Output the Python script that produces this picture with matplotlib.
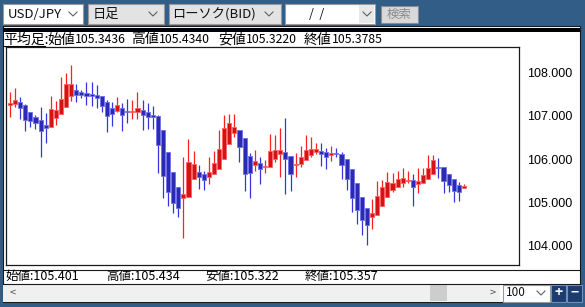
import matplotlib
matplotlib.use("Agg")
import matplotlib.pyplot as plt
from matplotlib.patches import Rectangle

plt.rcParams['font.family'] = ['Noto Sans CJK JP', 'DejaVu Sans']

# Heikin-ashi daily candles, USD/JPY
opens = [107.249, 107.272, 107.310, 107.242, 107.073, 106.973, 106.897, 106.782, 106.743, 106.950,
         107.035, 107.203, 107.456, 107.586, 107.540, 107.510, 107.487, 107.464, 107.441, 107.318,
         107.165, 107.104, 107.165, 107.096, 107.088, 107.088, 107.127, 107.073, 107.012, 106.989,
         106.667, 106.153, 105.709, 105.349, 105.111, 105.134, 105.533, 105.694, 105.655, 105.579,
         105.648, 105.778, 106.000, 106.345, 106.590, 106.667, 106.475, 106.069, 105.862, 105.901,
         105.824, 105.824, 106.000, 106.107, 106.153, 106.077, 105.862, 105.878, 105.977, 106.092,
         106.153, 106.192, 106.153, 106.092, 106.123, 106.123, 105.992, 105.770, 105.441, 105.134,
         104.866, 104.674, 104.705, 104.927, 105.134, 105.287, 105.364, 105.456, 105.502, 105.510,
         105.425, 105.456, 105.533, 105.655, 105.824, 105.809, 105.663, 105.540, 105.402, 105.3436]
highs = [107.548, 107.625, 107.433, 107.265, 107.088, 107.012, 107.203, 107.050, 107.448, 107.341,
         107.878, 107.969, 108.161, 107.717, 107.586, 107.763, 107.778, 107.701, 107.448, 107.356,
         107.303, 107.418, 107.295, 107.379, 107.356, 107.533, 107.356, 107.280, 107.219, 107.012,
         106.667, 106.153, 105.709, 105.349, 106.054, 106.460, 106.192, 105.862, 105.732, 106.054,
         106.192, 106.667, 107.012, 107.035, 107.035, 106.667, 106.475, 106.130, 106.207, 106.054,
         105.977, 106.575, 106.552, 106.705, 106.935, 106.077, 106.130, 106.299, 106.544, 106.498,
         106.360, 106.360, 106.261, 106.299, 106.253, 106.153, 105.992, 105.770, 105.441, 105.134,
         104.866, 105.073, 105.494, 105.517, 105.694, 105.671, 105.724, 105.801, 105.724, 105.655,
         105.801, 105.786, 106.092, 106.092, 106.031, 105.809, 105.663, 105.540, 105.479, 105.434]
lows = [106.973, 107.188, 106.920, 106.644, 106.743, 106.682, 106.054, 106.360, 106.743, 106.782,
        107.027, 107.203, 107.341, 107.303, 107.410, 107.242, 107.226, 107.180, 107.073, 106.628,
        106.766, 107.088, 106.651, 106.820, 106.920, 106.927, 106.667, 106.690, 106.690, 105.671,
        105.096, 104.927, 104.751, 104.659, 104.176, 105.134, 105.533, 105.303, 105.287, 105.425,
        105.648, 105.778, 106.000, 106.345, 106.514, 105.924, 105.272, 105.096, 105.724, 105.425,
        105.671, 105.824, 105.939, 105.579, 105.188, 105.272, 105.579, 105.824, 105.977, 106.038,
        106.115, 105.839, 105.778, 105.962, 106.038, 105.533, 105.287, 104.774, 104.506, 104.253,
        104.023, 104.383, 104.705, 104.927, 105.134, 105.249, 105.364, 105.364, 105.456, 104.920,
        105.211, 105.456, 105.533, 105.655, 105.556, 105.226, 105.249, 105.019, 105.035, 105.322]
closes = [107.295, 107.356, 107.165, 106.897, 106.874, 106.820, 106.651, 106.720, 107.150, 107.127,
          107.372, 107.724, 107.717, 107.471, 107.479, 107.441, 107.456, 107.402, 107.211, 106.989,
          107.035, 107.242, 107.004, 107.073, 107.104, 107.165, 107.004, 106.958, 106.958, 106.322,
          105.617, 105.249, 104.981, 104.881, 105.188, 105.924, 105.878, 105.594, 105.517, 105.709,
          105.916, 106.222, 106.705, 106.835, 106.728, 106.268, 105.648, 105.671, 105.954, 105.763,
          105.847, 106.184, 106.207, 106.207, 105.992, 105.655, 105.893, 106.054, 106.207, 106.222,
          106.230, 106.115, 106.046, 106.138, 106.107, 105.862, 105.540, 105.111, 104.820, 104.598,
          104.475, 104.759, 105.150, 105.356, 105.464, 105.456, 105.548, 105.563, 105.525, 105.349,
          105.494, 105.632, 105.801, 105.977, 105.786, 105.487, 105.402, 105.272, 105.249, 105.3785]

y_ticks = [104, 105, 106, 107, 108]
n_slots = 100

header_labels = ["始値", "高値", "安値", "終値"]
header_values = ["105.3436", "105.4340", "105.3220", "105.3785"]
header_x = [47, 131, 218, 304]
footer_parts = [("始値:105.401", 5), ("高値:105.434", 106), ("安値:105.322", 205),
                ("終値:105.357", 305)]

W, H = 585, 307
frame = '#325d86'
fig = plt.figure(figsize=(W / 100, H / 100), dpi=100)
fig.patch.set_facecolor(frame)

# window chrome in pixel coordinates
bg = fig.add_axes([0, 0, 1, 1])
bg.set_xlim(0, W)
bg.set_ylim(H, 0)
bg.axis('off')


def box(x0, y0, x1, y1, fc, ec='none', lw=0.8, z=1):
    bg.add_patch(Rectangle((x0, y0), x1 - x0, y1 - y0, facecolor=fc, edgecolor=ec, linewidth=lw, zorder=z))


def chevron(cx, cy, c='#606060'):
    bg.plot([cx - 4, cx, cx + 4], [cy - 2, cy + 2, cy - 2], color=c, lw=0.8, zorder=3)


# toolbar
box(3, 4, 83, 24, 'white', '#9a9a9a')
bg.text(8, 14.5, "USD/JPY", fontsize=9.5, va='center', color='#111111', zorder=3)
chevron(73, 14)
box(88, 4, 164, 24, '#e3e3e3', '#9a9a9a')
bg.text(93, 14.5, "日足", fontsize=9.5, va='center', color='#111111', zorder=3)
chevron(153, 14)
box(169, 4, 281, 24, '#e3e3e3', '#9a9a9a')
bg.text(172, 14.5, "ローソク(BID)", fontsize=9.5, va='center', color='#111111', zorder=3)
chevron(269, 14)
box(285, 4, 375, 24, 'white', '#9a9a9a')
box(359, 5, 374, 23, '#e8e8e8', 'none')
bg.text(317, 14.5, "/  /", fontsize=9, va='center', ha='center', color='#111111', zorder=3)
chevron(367, 14)
box(381, 6, 418, 23, '#d9d9d9', '#8c8c8c')
bg.text(399.5, 14.5, "検索", fontsize=9, va='center', ha='center', color='#8a8a8a', zorder=3)

# white panel
box(3, 26, 580, 302, 'white', '#1a1a1a', lw=0.8)
box(3, 28, 580, 31.5, '#000000')
bg.text(3, 39.5, "平均足:", fontsize=10, va='center', color='#000000', zorder=3)
for lab, val, x in zip(header_labels, header_values, header_x):
    bg.text(x, 39.5, lab, fontsize=10, va='center', color='#000000', zorder=3)
    bg.text(x + 28, 39.8, val, fontsize=8.8, va='center', color='#000000', zorder=3)
bg.plot([3, 45], [46, 46], color='#000000', lw=0.8, zorder=3)

# footer
bg.plot([3, 580], [269.5, 269.5], color='#1a1a1a', lw=0.8, zorder=3)
for txt, x in footer_parts:
    bg.text(x, 276.5, txt, fontsize=9, va='center', color='#000000', zorder=3)
bg.plot([3, 580], [284, 284], color='#1a1a1a', lw=0.8, zorder=3)
box(3, 284.5, 500, 302, '#f0f0f0')
box(430, 285, 447, 301, '#cdcdcd')
bg.text(10, 293, "<", fontsize=8, va='center', color='#505050', zorder=3)
bg.text(490, 293, ">", fontsize=8, va='center', color='#505050', zorder=3)
box(503, 285, 550, 302, 'white', '#9a9a9a')
bg.text(506, 293, "100", fontsize=8.5, va='center', color='#111111', zorder=3)
chevron(541, 293)
box(551, 285, 566, 302, '#1c3c6e', '#6f8fbf')
box(567, 285, 582, 302, '#1c3c6e', '#6f8fbf')
bg.text(558.5, 293, "+", fontsize=10, fontweight='bold', va='center', ha='center', color='white', zorder=3)
bg.text(574.5, 293, "−", fontsize=10, fontweight='bold', va='center', ha='center', color='white', zorder=3)

# candlestick chart
ax = fig.add_axes([6 / W, (H - 265) / H, 513 / W, 218 / H])
ax.set_facecolor('white')
for i, (o, h, l, c) in enumerate(zip(opens, highs, lows, closes)):
    up = c >= o
    wick = '#ff2020' if up else '#3535e0'
    fill = '#d41414' if up else '#2a2ab4'
    edge = '#ff6060' if up else '#7070e8'
    ax.vlines(i, l, h, color=wick, lw=0.9, zorder=2)
    body = max(abs(c - o), 0.02)
    ax.bar(i, body, bottom=min(o, c), width=0.8, color=fill, edgecolor=edge, linewidth=0.6, zorder=3)

ax.set_xlim(-0.78, n_slots - 0.2)
ax.set_ylim(103.563, 108.575)
ax.set_xticks([])
ax.yaxis.tick_right()
ax.set_yticks(y_ticks)
ax.set_yticklabels(["%.3f" % v for v in y_ticks], fontsize=9, family='Liberation Sans')
ax.tick_params(axis='y', length=0, pad=6)
for s in ax.spines.values():
    s.set_color('#1a1a1a')
    s.set_linewidth(0.9)

fig.savefig("out.png", dpi=100, facecolor=frame)
